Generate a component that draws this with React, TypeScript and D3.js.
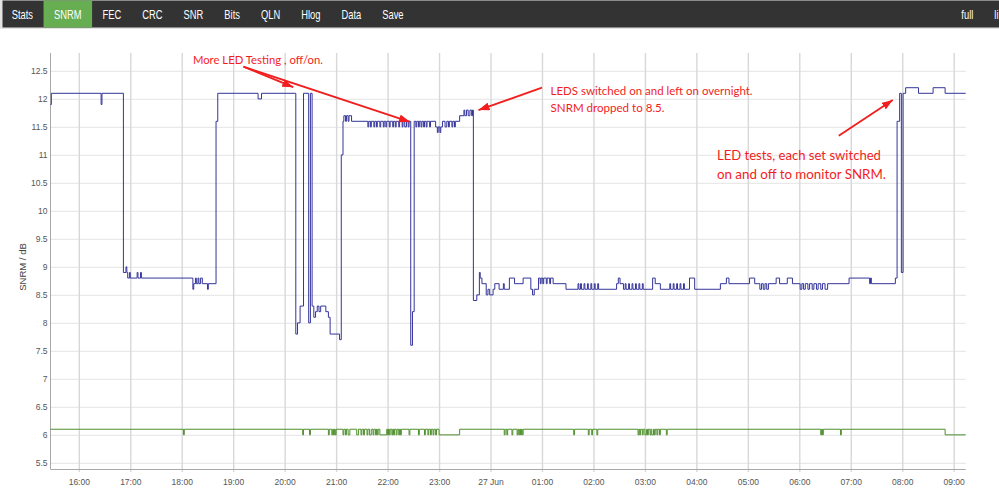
import { useEffect, useRef } from "react";
import {
  select,
  scaleTime,
  scaleLinear,
  line as d3line,
  curveStepAfter,
  axisBottom,
  axisLeft,
} from "d3";

// --- Data ---
const menuItems = ["Stats", "SNRM", "FEC", "CRC", "SNR", "Bits", "QLN", "Hlog", "Data", "Save"];
const activeItem = "SNRM";
const rightItems = ["full", "li"];

const yTicks = [5.5, 6, 6.5, 7, 7.5, 8, 8.5, 9, 9.5, 10, 10.5, 11, 11.5, 12, 12.5];
const xTicks = [
  "16:00", "17:00", "18:00", "19:00", "20:00", "21:00", "22:00", "23:00",
  "00:00", "01:00", "02:00", "03:00", "04:00", "05:00", "06:00", "07:00", "08:00", "09:00",
];
const midnightLabel = "27 Jun";
const xStart = "15:27";
const xEnd = "09:14";
const yMin = 5.39;
const yMax = 12.82;
const yTitle = "SNRM / dB";

// downstream SNRM (blue), [time, dB]
const downstream: [string, number][] = [
  ["15:27", 11.9], ["15:28", 12.1], ["16:26", 11.9], ["16:27", 12.1],
  ["16:52", 8.9], ["16:55", 9.0], ["16:56", 8.9], ["16:57", 8.8], ["16:59", 8.9], ["17:00", 8.8],
  ["17:08", 8.9], ["17:09", 8.8], ["17:12", 8.9], ["17:13", 8.8],
  ["18:13", 8.6], ["18:14", 8.7], ["18:16", 8.8], ["18:17", 8.7], ["18:19", 8.8], ["18:20", 8.7],
  ["18:22", 8.8], ["18:24", 8.7], ["18:30", 8.6], ["18:31", 8.7],
  ["18:40", 11.6], ["18:42", 12.1], ["19:29", 12.0], ["19:33", 12.1],
  ["20:13", 7.8], ["20:15", 8.0], ["20:18", 8.3], ["20:22", 12.1], ["20:28", 8.0], ["20:30", 12.1],
  ["20:32", 8.3], ["20:34", 8.1], ["20:36", 8.2], ["20:38", 8.3], ["20:40", 8.2], ["20:42", 8.3],
  ["20:48", 8.2], ["20:51", 8.1], ["20:53", 7.8], ["21:04", 7.7], ["21:06", 11.0], ["21:08", 11.6],
  ["21:09", 11.7], ["21:11", 11.6], ["21:12", 11.7], ["21:14", 11.6], ["21:15", 11.7], ["21:18", 11.6],
  ["21:37", 11.5], ["21:38", 11.6], ["21:40", 11.5], ["21:41", 11.6], ["21:44", 11.5], ["21:45", 11.6],
  ["21:47", 11.5], ["21:48", 11.6], ["21:51", 11.5], ["21:52", 11.6], ["21:55", 11.5], ["21:56", 11.6],
  ["21:58", 11.5], ["21:59", 11.6], ["22:02", 11.5], ["22:03", 11.6], ["22:06", 11.5], ["22:07", 11.6],
  ["22:09", 11.5], ["22:10", 11.6], ["22:13", 11.5], ["22:14", 11.6], ["22:17", 11.5], ["22:18", 11.6],
  ["22:20", 11.5], ["22:22", 11.6], ["22:24", 11.5], ["22:25", 11.6],
  ["22:27", 7.6], ["22:29", 8.2], ["22:31", 11.6],
  ["22:33", 11.5], ["22:34", 11.6], ["22:36", 11.5], ["22:37", 11.6], ["22:39", 11.5], ["22:40", 11.6],
  ["22:42", 11.5], ["22:43", 11.6], ["22:45", 11.5], ["22:46", 11.6], ["22:49", 11.5], ["22:50", 11.6],
  ["22:56", 11.5], ["22:58", 11.4], ["22:59", 11.5], ["23:01", 11.4], ["23:02", 11.5], ["23:04", 11.6],
  ["23:07", 11.5], ["23:09", 11.6], ["23:11", 11.5], ["23:12", 11.6], ["23:15", 11.5], ["23:16", 11.6],
  ["23:18", 11.5], ["23:19", 11.6],
  ["23:24", 11.7], ["23:29", 11.8], ["23:30", 11.7], ["23:32", 11.8], ["23:34", 11.7], ["23:36", 11.8],
  ["23:38", 11.7], ["23:39", 11.8],
  ["23:40", 8.4], ["23:44", 8.5], ["23:47", 8.9], ["23:48", 8.8], ["23:50", 8.7], ["23:55", 8.5],
  ["23:57", 8.6], ["23:59", 8.5], ["00:03", 8.6], ["00:05", 8.7], ["00:10", 8.6], ["00:15", 8.7],
  ["00:16", 8.6], ["00:22", 8.8], ["00:28", 8.7], ["00:38", 8.8], ["00:47", 8.6], ["00:49", 8.5],
  ["00:51", 8.6], ["00:56", 8.8], ["00:58", 8.7], ["00:59", 8.8], ["01:01", 8.7], ["01:02", 8.8],
  ["01:05", 8.7], ["01:06", 8.8], ["01:09", 8.7], ["01:10", 8.8], ["01:13", 8.7], ["01:28", 8.6],
  ["01:42", 8.7], ["01:43", 8.6], ["01:45", 8.7], ["01:46", 8.6], ["01:49", 8.7], ["01:50", 8.6],
  ["01:53", 8.7], ["01:54", 8.6], ["01:57", 8.7], ["01:58", 8.6], ["02:01", 8.7], ["02:02", 8.6],
  ["02:05", 8.7], ["02:06", 8.6], ["02:27", 8.7], ["02:29", 8.8], ["02:31", 8.7], ["02:35", 8.6],
  ["02:37", 8.7], ["02:38", 8.6], ["02:41", 8.7], ["02:42", 8.6], ["02:45", 8.7], ["02:46", 8.6],
  ["02:49", 8.7], ["02:50", 8.6], ["02:53", 8.7], ["02:54", 8.6], ["02:57", 8.7], ["02:58", 8.6],
  ["03:09", 8.8], ["03:12", 8.7], ["03:18", 8.6], ["03:29", 8.7], ["03:30", 8.6], ["03:33", 8.7],
  ["03:34", 8.6], ["03:37", 8.7], ["03:38", 8.6], ["03:41", 8.7], ["03:42", 8.6], ["03:45", 8.7],
  ["03:46", 8.6], ["03:52", 8.8], ["03:58", 8.6], ["04:28", 8.7], ["04:35", 8.8], ["04:38", 8.7],
  ["05:02", 8.8], ["05:08", 8.7], ["05:14", 8.6], ["05:16", 8.7], ["05:18", 8.6], ["05:20", 8.7],
  ["05:22", 8.6], ["05:24", 8.7], ["05:33", 8.8], ["05:37", 8.7], ["05:46", 8.8], ["05:52", 8.7],
  ["06:01", 8.6], ["06:03", 8.7], ["06:05", 8.6], ["06:07", 8.7], ["06:10", 8.6], ["06:12", 8.7],
  ["06:15", 8.6], ["06:17", 8.7], ["06:20", 8.6], ["06:22", 8.7], ["06:25", 8.6], ["06:27", 8.7],
  ["06:30", 8.6], ["06:33", 8.7], ["06:58", 8.8], ["07:22", 8.7], ["07:23", 8.8], ["07:24", 8.7],
  ["07:52", 8.8], ["07:54", 11.6], ["07:57", 12.1], ["07:59", 8.9], ["08:01", 12.1], ["08:04", 12.2],
  ["08:19", 12.1], ["08:36", 12.2], ["08:50", 12.1], ["09:14", 12.1],
];

// upstream SNRM (green), [time, dB]
const upstream: [string, number][] = [
  ["15:27", 6.1], ["18:02", 6.0], ["18:03", 6.1], ["20:21", 6.0], ["20:22", 6.1], ["20:29", 6.0], ["20:30", 6.1],
  ["20:51", 6.0], ["20:52", 6.1], ["20:55", 6.0], ["20:56", 6.1], ["20:57", 6.0], ["20:58", 6.1],
  ["20:59", 6.0], ["21:00", 6.1], ["21:08", 6.0], ["21:09", 6.1], ["21:11", 6.0], ["21:12", 6.1],
  ["21:14", 6.0], ["21:16", 6.1], ["21:24", 6.0], ["21:26", 6.1], ["21:29", 6.0], ["21:30", 6.1],
  ["21:32", 6.0], ["21:33", 6.1], ["21:36", 6.0], ["21:37", 6.1], ["21:39", 6.0], ["21:41", 6.1],
  ["21:43", 6.0], ["21:44", 6.1], ["21:46", 6.0], ["21:47", 6.1], ["21:48", 6.0], ["21:49", 6.1],
  ["21:51", 6.0], ["21:59", 6.1], ["22:00", 6.0], ["22:01", 6.1], ["22:02", 6.0], ["22:03", 6.1],
  ["22:05", 6.0], ["22:06", 6.1], ["22:07", 6.0], ["22:08", 6.1], ["22:10", 6.0], ["22:11", 6.1],
  ["22:13", 6.0], ["22:14", 6.1], ["22:15", 6.0], ["22:16", 6.1], ["22:25", 6.0], ["22:26", 6.1],
  ["22:36", 6.0], ["22:37", 6.1], ["22:43", 6.0], ["22:44", 6.1], ["22:47", 6.0], ["22:48", 6.1],
  ["22:50", 6.0], ["22:51", 6.1], ["22:53", 6.0], ["22:54", 6.1], ["22:56", 6.0], ["22:57", 6.1],
  ["23:00", 6.0], ["23:24", 6.1],
  ["00:16", 6.0], ["00:17", 6.1], ["00:19", 6.0], ["00:20", 6.1], ["00:25", 6.0], ["00:26", 6.1],
  ["00:31", 6.0], ["00:32", 6.1], ["00:33", 6.0], ["00:34", 6.1], ["00:35", 6.0], ["00:36", 6.1],
  ["00:37", 6.0], ["00:38", 6.1], ["01:37", 6.0], ["01:38", 6.1], ["01:54", 6.0], ["01:55", 6.1],
  ["01:58", 6.0], ["01:59", 6.1], ["02:04", 6.0], ["02:05", 6.1],
  ["02:52", 6.0], ["02:53", 6.1], ["02:54", 6.0], ["02:55", 6.1], ["02:57", 6.0], ["02:58", 6.1],
  ["03:00", 6.0], ["03:02", 6.1], ["03:03", 6.0], ["03:04", 6.1], ["03:06", 6.0], ["03:07", 6.1],
  ["03:08", 6.0], ["03:10", 6.1], ["03:11", 6.0], ["03:12", 6.1], ["03:14", 6.0], ["03:15", 6.1],
  ["03:17", 6.0], ["03:18", 6.1], ["03:25", 6.0], ["03:26", 6.1],
  ["06:25", 6.0], ["06:26", 6.1], ["06:27", 6.0], ["06:28", 6.1], ["06:48", 6.0], ["06:49", 6.1],
  ["08:50", 6.0], ["09:14", 6.0],
];

// red annotations, anchored in chart coordinates [time, dB]
const testingText = ["More LED Testing , off/on."];
const testingAt: [string, number] = ["18:13", 12.62];
const testingFrom: [string, number] = ["19:12", 12.575];
const testingTo: [string, number][] = [["20:10", 12.21], ["22:26", 11.59]];

const overnightText = ["LEDS switched on and left on overnight.", "SNRM dropped to 8.5."];
const overnightAt: [string, number] = ["01:10", 12.07];
const overnightFrom: [string, number] = ["01:00", 12.2];
const overnightTo: [string, number][] = [["23:46", 11.8]];

const testsText = ["LED tests, each set switched", "on and off to monitor SNRM."];
const testsAt: [string, number] = ["04:24", 10.9];
const testsFrom: [string, number] = ["06:46", 11.34];
const testsTo: [string, number][] = [["07:49", 11.98]];

const toDate = (s: string) => {
  const [h, m] = s.split(":").map(Number);
  return new Date(2019, 5, h >= 12 ? 26 : 27, h, m);
};

const WIDTH = 999;
const HEIGHT = 499;
const PLOT = { left: 50.5, right: 965.7, top: 53, bottom: 469 };
const RED = "#f21d1d";

export default function App() {
  const svgRef = useRef<SVGSVGElement>(null);

  useEffect(() => {
    const svg = select(svgRef.current);
    svg.selectAll("*").remove();

    svg.append("rect").attr("width", WIDTH).attr("height", HEIGHT).attr("fill", "#fff");

    // --- Menu bar ---
    const bar = svg.append("g");
    bar.append("rect").attr("x", 0).attr("y", 0).attr("width", WIDTH).attr("height", 29).attr("fill", "#e4e4e4");
    bar.append("rect").attr("x", 2.5).attr("y", 0.5).attr("width", WIDTH - 2.5).attr("height", 27).attr("fill", "#333");

    const ctx = document.createElement("canvas").getContext("2d")!;
    ctx.font = "13px 'Liberation Sans', Arial";
    const squeeze = 0.72;
    const pad = 10.5;
    let cx = 1.2;
    menuItems.forEach((label) => {
      const w = ctx.measureText(label).width * squeeze;
      if (label === activeItem) {
        bar.append("rect").attr("x", cx).attr("y", 0.5).attr("width", w + pad * 2).attr("height", 27).attr("fill", "#67ad52");
      }
      bar
        .append("text")
        .attr("transform", `translate(${cx + pad},18.5) scale(${squeeze},1)`)
        .attr("fill", "#fff")
        .attr("font-family", "'Liberation Sans', Arial, sans-serif")
        .attr("font-size", 13)
        .text(label);
      cx += w + pad * 2;
    });
    let rx = 994.3;
    for (let i = rightItems.length - 1; i >= 0; i--) {
      const label = rightItems[i];
      if (i < rightItems.length - 1) rx -= ctx.measureText(label).width * squeeze + pad * 2;
      bar
        .append("text")
        .attr("transform", `translate(${rx},18.5) scale(${squeeze},1)`)
        .attr("fill", "#fff")
        .attr("font-family", "'Liberation Sans', Arial, sans-serif")
        .attr("font-size", 13)
        .text(label);
    }

    // --- Scales ---
    const x = scaleTime().domain([toDate(xStart), toDate(xEnd)]).range([PLOT.left, PLOT.right]);
    const y = scaleLinear().domain([yMin, yMax]).range([PLOT.bottom, PLOT.top]);
    const w = PLOT.right - PLOT.left;
    const h = PLOT.bottom - PLOT.top;

    // --- Y grid + labels ---
    svg
      .append("g")
      .attr("transform", `translate(${PLOT.left},0)`)
      .call(
        axisLeft(y)
          .tickValues(yTicks)
          .tickSize(-w)
          .tickPadding(3)
          .tickFormat((d) => `${d}`),
      )
      .call((sel) => sel.select(".domain").remove())
      .call((sel) => sel.selectAll(".tick line").attr("stroke", "#e9e9e9").attr("stroke-width", 1.2))
      .call((sel) =>
        sel
          .selectAll(".tick text")
          .attr("fill", "#555")
          .attr("font-size", 8.5)
          .attr("font-family", "'Liberation Sans', Arial, sans-serif"),
      );

    // --- X grid + labels ---
    svg
      .append("g")
      .attr("transform", `translate(0,${PLOT.bottom})`)
      .call(
        axisBottom(x)
          .tickValues(xTicks.map(toDate))
          .tickSize(-h)
          .tickPadding(-3)
          .tickFormat((d) => {
            const dt = d as Date;
            if (dt.getHours() === 0 && dt.getMinutes() === 0) return midnightLabel;
            return `${String(dt.getHours()).padStart(2, "0")}:00`;
          }),
      )
      .call((sel) => sel.select(".domain").remove())
      .call((sel) =>
        sel
          .selectAll(".tick line")
          .attr("y2", -h)
          .attr("y1", 3)
          .attr("stroke", "#d8d8d8")
          .attr("stroke-width", 1.4),
      )
      .call((sel) =>
        sel
          .selectAll(".tick text")
          .attr("y", 10)
          .attr("fill", "#555")
          .attr("font-size", 8.5)
          .attr("font-family", "'Liberation Sans', Arial, sans-serif"),
      );

    // --- Axis lines ---
    svg
      .append("line")
      .attr("x1", PLOT.left)
      .attr("x2", PLOT.left)
      .attr("y1", PLOT.top)
      .attr("y2", PLOT.bottom)
      .attr("stroke", "#a8a8a8");
    svg
      .append("line")
      .attr("x1", PLOT.left)
      .attr("x2", PLOT.right)
      .attr("y1", PLOT.bottom + 0.5)
      .attr("y2", PLOT.bottom + 0.5)
      .attr("stroke", "#a8a8a8");

    svg
      .append("text")
      .attr("transform", `translate(26,${(PLOT.top + PLOT.bottom) / 2 + 6}) rotate(-90)`)
      .attr("text-anchor", "middle")
      .attr("fill", "#444")
      .attr("font-size", 9.5)
      .attr("font-family", "'Liberation Sans', Arial, sans-serif")
      .text(yTitle);

    // --- Series ---
    const lineGen = d3line<[string, number]>()
      .x((d) => x(toDate(d[0])))
      .y((d) => y(d[1]))
      .curve(curveStepAfter);

    svg
      .append("path")
      .datum(upstream)
      .attr("fill", "none")
      .attr("stroke", "#4e8f2c")
      .attr("stroke-width", 1)
      .attr("d", lineGen);

    svg
      .append("path")
      .datum(downstream)
      .attr("fill", "none")
      .attr("stroke", "#34349b")
      .attr("stroke-width", 1)
      .attr("d", lineGen);

    // --- Annotations ---
    const defs = svg.append("defs");
    defs
      .append("marker")
      .attr("id", "red-arrow")
      .attr("markerUnits", "userSpaceOnUse")
      .attr("markerWidth", 11)
      .attr("markerHeight", 8)
      .attr("refX", 11)
      .attr("refY", 4)
      .attr("orient", "auto")
      .append("path")
      .attr("d", "M0,0 L11,4 L0,8 z")
      .attr("fill", RED);

    const pt = (p: [string, number]) => [x(toDate(p[0])), y(p[1])] as const;

    const arrows = (from: [string, number], tos: [string, number][]) => {
      const [x1, y1] = pt(from);
      tos.forEach((to) => {
        const [x2, y2] = pt(to);
        svg
          .append("line")
          .attr("x1", x1)
          .attr("y1", y1)
          .attr("x2", x2)
          .attr("y2", y2)
          .attr("stroke", RED)
          .attr("stroke-width", 1.8)
          .attr("marker-end", "url(#red-arrow)");
      });
    };

    const note = (lines: string[], at: [string, number], size: number, gap: number, lengths: number[]) => {
      const [tx, ty] = pt(at);
      lines.forEach((t, i) => {
        svg
          .append("text")
          .attr("x", tx)
          .attr("y", ty + i * gap)
          .attr("fill", RED)
          .attr("font-family", "Lato, 'Open Sans', sans-serif")
          .attr("font-size", size)
          .attr("textLength", lengths[i])
          .attr("lengthAdjust", "spacingAndGlyphs")
          .text(t);
      });
    };

    arrows(testingFrom, testingTo);
    arrows(overnightFrom, overnightTo);
    arrows(testsFrom, testsTo);
    note(testingText, testingAt, 12, 0, [130]);
    note(overnightText, overnightAt, 11.5, 16.7, [202, 114]);
    note(testsText, testsAt, 13.5, 18.6, [164, 169]);
  }, []);

  return (
    <div style={{ position: "fixed", left: 0, top: 0 }}>
      <svg ref={svgRef} width={WIDTH} height={HEIGHT} style={{ display: "block" }} />
    </div>
  );
}
